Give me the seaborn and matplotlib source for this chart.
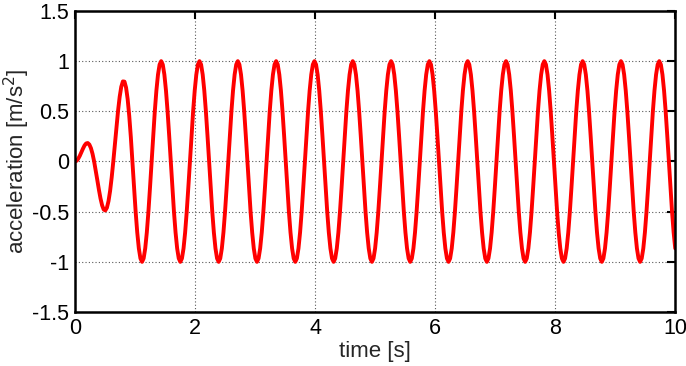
# Acceleration signal, 0-10 s
import numpy as np
import matplotlib
matplotlib.use("Agg")
import matplotlib.pyplot as plt
import seaborn as sns

accel = [
    0, 0.007, 0.027, 0.056, 0.092, 0.128, 0.160, 0.180, 0.184, 0.169, 0.133, 0.076,
    0, -0.090, -0.186, -0.282, -0.369, -0.437, -0.479, -0.488, -0.461, -0.395, -0.293, -0.158,
    0, 0.172, 0.346, 0.508, 0.645, 0.745, 0.798, 0.796, 0.737, 0.621, 0.452, 0.241,
    0, -0.255, -0.5, -0.707, -0.866, -0.966, -1, -0.966, -0.866, -0.707, -0.5, -0.259,
    0, 0.259, 0.5, 0.707, 0.866, 0.966, 1, 0.966, 0.866, 0.707, 0.5, 0.259, 0, -0.259, -0.5, -0.707, -0.866, -0.966, -1, -0.966, -0.866, -0.707, -0.5, -0.259,
    0, 0.259, 0.5, 0.707, 0.866, 0.966, 1, 0.966, 0.866, 0.707, 0.5, 0.259, 0, -0.259, -0.5, -0.707, -0.866, -0.966, -1, -0.966, -0.866, -0.707, -0.5, -0.259,
    0, 0.259, 0.5, 0.707, 0.866, 0.966, 1, 0.966, 0.866, 0.707, 0.5, 0.259, 0, -0.259, -0.5, -0.707, -0.866, -0.966, -1, -0.966, -0.866, -0.707, -0.5, -0.259,
    0, 0.259, 0.5, 0.707, 0.866, 0.966, 1, 0.966, 0.866, 0.707, 0.5, 0.259, 0, -0.259, -0.5, -0.707, -0.866, -0.966, -1, -0.966, -0.866, -0.707, -0.5, -0.259,
    0, 0.259, 0.5, 0.707, 0.866, 0.966, 1, 0.966, 0.866, 0.707, 0.5, 0.259, 0, -0.259, -0.5, -0.707, -0.866, -0.966, -1, -0.966, -0.866, -0.707, -0.5, -0.259,
    0, 0.259, 0.5, 0.707, 0.866, 0.966, 1, 0.966, 0.866, 0.707, 0.5, 0.259, 0, -0.259, -0.5, -0.707, -0.866, -0.966, -1, -0.966, -0.866, -0.707, -0.5, -0.259,
    0, 0.259, 0.5, 0.707, 0.866, 0.966, 1, 0.966, 0.866, 0.707, 0.5, 0.259, 0, -0.259, -0.5, -0.707, -0.866, -0.966, -1, -0.966, -0.866, -0.707, -0.5, -0.259,
    0, 0.259, 0.5, 0.707, 0.866, 0.966, 1, 0.966, 0.866, 0.707, 0.5, 0.259, 0, -0.259, -0.5, -0.707, -0.866, -0.966, -1, -0.966, -0.866, -0.707, -0.5, -0.259,
    0, 0.259, 0.5, 0.707, 0.866, 0.966, 1, 0.966, 0.866, 0.707, 0.5, 0.259, 0, -0.259, -0.5, -0.707, -0.866, -0.966, -1, -0.966, -0.866, -0.707, -0.5, -0.259,
    0, 0.259, 0.5, 0.707, 0.866, 0.966, 1, 0.966, 0.866, 0.707, 0.5, 0.259, 0, -0.259, -0.5, -0.707, -0.866, -0.966, -1, -0.966, -0.866, -0.707, -0.5, -0.259,
    0, 0.259, 0.5, 0.707, 0.866, 0.966, 1, 0.966, 0.866, 0.707, 0.5, 0.259, 0, -0.259, -0.5, -0.707, -0.866, -0.966, -1, -0.966, -0.866, -0.707, -0.5, -0.259,
    0, 0.259, 0.5, 0.707, 0.866, 0.966, 1, 0.966, 0.866, 0.707, 0.5, 0.259, 0, -0.259, -0.5, -0.707, -0.866, -0.966, -1, -0.966, -0.866, -0.707, -0.5, -0.259,
    0, 0.259, 0.5, 0.707, 0.866, 0.966, 1, 0.966, 0.866, 0.707, 0.5, 0.259, 0, -0.259, -0.5, -0.707, -0.866, -0.966, -1, -0.966, -0.866, -0.707, -0.5, -0.259,
    0, 0.259, 0.5, 0.707, 0.866, 0.966, 1, 0.966, 0.866, 0.707, 0.5, 0.259, 0, -0.259, -0.5, -0.707, -0.866,
]
time = np.linspace(0, 10, len(accel))

x_ticks = [0, 2, 4, 6, 8, 10]
y_ticks = [-1.5, -1, -0.5, 0, 0.5, 1, 1.5]
y_labels = ["-1.5", "-1", "-0.5", "0", "0.5", "1", "1.5"]

sns.set_style("white")
plt.rcParams["font.family"] = ["Liberation Sans", "DejaVu Sans"]

fig = plt.figure(figsize=(6.86, 3.66), dpi=100)
ax = fig.add_axes([0.1093, 0.1475, 0.875, 0.8225])

sns.lineplot(x=time, y=accel, color="#ff0000", linewidth=2.8, ax=ax)

ax.set_xlim(0, 10)
ax.set_ylim(-1.5, 1.5)
ax.set_xticks(x_ticks)
ax.set_yticks(y_ticks)
ax.set_yticklabels(y_labels)
ax.grid(True, color="0.35", linestyle=(0, (1, 2)), linewidth=0.8)
ax.tick_params(direction="in", length=6, width=1.5, top=True, right=True,
               labelsize=15.5, pad=4, colors="black")
for s in ax.spines.values():
    s.set_color("black")
    s.set_linewidth(1.8)

ax.set_xlabel("time [s]", fontsize=16, labelpad=2)
ax.set_ylabel("acceleration [m/s$^2$]", fontsize=16)
ax.yaxis.set_label_coords(-0.071, 0.5)

fig.savefig("out.png", dpi=100)
